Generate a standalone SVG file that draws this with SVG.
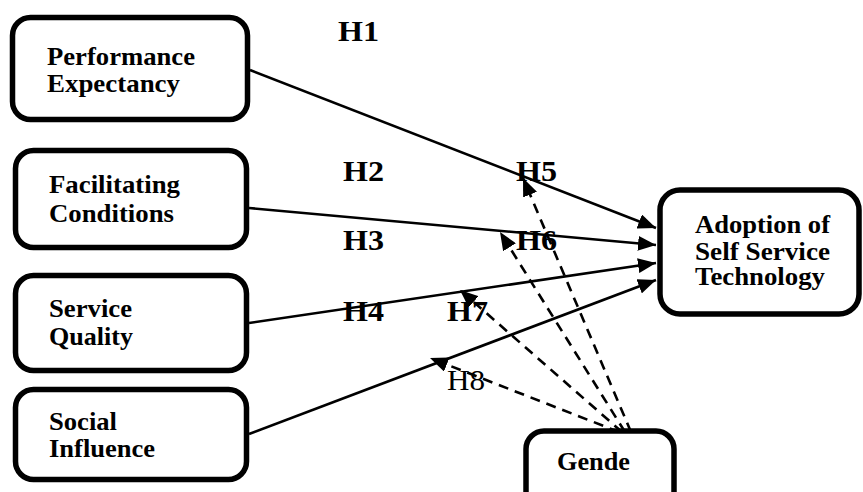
<svg xmlns="http://www.w3.org/2000/svg" width="863" height="492" viewBox="0 0 863 492">
<style>
.box{fill:#fff;stroke:#000;stroke-width:5.5}
.t{font-family:"Liberation Serif","Times New Roman",serif;font-weight:bold;font-size:24.5px;fill:#000}
.h{font-family:"Liberation Serif","Times New Roman",serif;font-weight:bold;font-size:28.5px;fill:#000}
.hr{font-family:"Liberation Serif","Times New Roman",serif;font-size:28.5px;fill:#000}
.ln{fill:none;stroke:#000;stroke-width:2.6}
.ds{fill:none;stroke:#000;stroke-width:2.6;stroke-dasharray:10 7}
</style>
<defs>
<marker id="ah" markerUnits="userSpaceOnUse" markerWidth="19" markerHeight="15" refX="18" refY="7.5" orient="auto">
<path d="M0,0 L18,7.5 L0,15 z" fill="#000"/>
</marker>
</defs>
<rect width="863" height="492" fill="#fff"/>
<g id="connectors">
<line class="ln" x1="250" y1="70" x2="656" y2="228" marker-end="url(#ah)"/>
<line class="ln" x1="249" y1="208" x2="656" y2="245" marker-end="url(#ah)"/>
<line class="ln" x1="249" y1="323" x2="656" y2="263" marker-end="url(#ah)"/>
<line class="ln" x1="249" y1="434" x2="656" y2="280" marker-end="url(#ah)"/>
<line class="ds" x1="631" y1="432" x2="523" y2="178" marker-end="url(#ah)"/>
<line class="ds" x1="625" y1="432" x2="500" y2="232" marker-end="url(#ah)"/>
<line class="ds" x1="622" y1="432" x2="460" y2="290" marker-end="url(#ah)"/>
<line class="ds" x1="619" y1="432" x2="430" y2="358" marker-end="url(#ah)"/>
</g>
<g id="labels">
<text class="h" x="338" y="41" textLength="41" lengthAdjust="spacingAndGlyphs">H1</text>
<text class="h" x="343" y="181" textLength="41" lengthAdjust="spacingAndGlyphs">H2</text>
<text class="h" x="343" y="250" textLength="41" lengthAdjust="spacingAndGlyphs">H3</text>
<text class="h" x="343" y="321" textLength="41" lengthAdjust="spacingAndGlyphs">H4</text>
<text class="h" x="516" y="181" textLength="41" lengthAdjust="spacingAndGlyphs">H5</text>
<text class="h" x="516" y="250" textLength="41" lengthAdjust="spacingAndGlyphs">H6</text>
<text class="h" x="447" y="321" textLength="41" lengthAdjust="spacingAndGlyphs">H7</text>
<text class="hr" x="447" y="390" textLength="38" lengthAdjust="spacingAndGlyphs">H8</text>
</g>
<g id="performance-expectancy">
<rect class="box" x="12.5" y="17.5" width="235" height="102" rx="18"/>
<text class="t" x="47" y="65" textLength="148" lengthAdjust="spacingAndGlyphs">Performance</text>
<text class="t" x="47" y="91.5" textLength="133" lengthAdjust="spacingAndGlyphs">Expectancy</text>
</g>
<g id="facilitating-conditions">
<rect class="box" x="15.5" y="150.5" width="231" height="97" rx="18"/>
<text class="t" x="49" y="193" textLength="131" lengthAdjust="spacingAndGlyphs">Facilitating</text>
<text class="t" x="49" y="221.5" textLength="125" lengthAdjust="spacingAndGlyphs">Conditions</text>
</g>
<g id="service-quality">
<rect class="box" x="15.5" y="275.5" width="231" height="95" rx="18"/>
<text class="t" x="49" y="317" textLength="83" lengthAdjust="spacingAndGlyphs">Service</text>
<text class="t" x="49" y="345" textLength="84" lengthAdjust="spacingAndGlyphs">Quality</text>
</g>
<g id="social-influence">
<rect class="box" x="15.5" y="389.5" width="231" height="90" rx="18"/>
<text class="t" x="49" y="430" textLength="68" lengthAdjust="spacingAndGlyphs">Social</text>
<text class="t" x="49" y="456.5" textLength="106" lengthAdjust="spacingAndGlyphs">Influence</text>
</g>
<g id="adoption">
<rect class="box" x="660" y="190" width="199" height="124" rx="20"/>
<text class="t" x="695" y="233" textLength="135" lengthAdjust="spacingAndGlyphs">Adoption of</text>
<text class="t" x="695" y="260" textLength="135" lengthAdjust="spacingAndGlyphs">Self Service</text>
<text class="t" x="695" y="285" textLength="130" lengthAdjust="spacingAndGlyphs">Technology</text>
</g>
<g id="gende">
<rect class="box" x="526" y="431" width="148" height="90" rx="18"/>
<text class="t" x="557" y="470" textLength="73" lengthAdjust="spacingAndGlyphs">Gende</text>
</g>
</svg>
